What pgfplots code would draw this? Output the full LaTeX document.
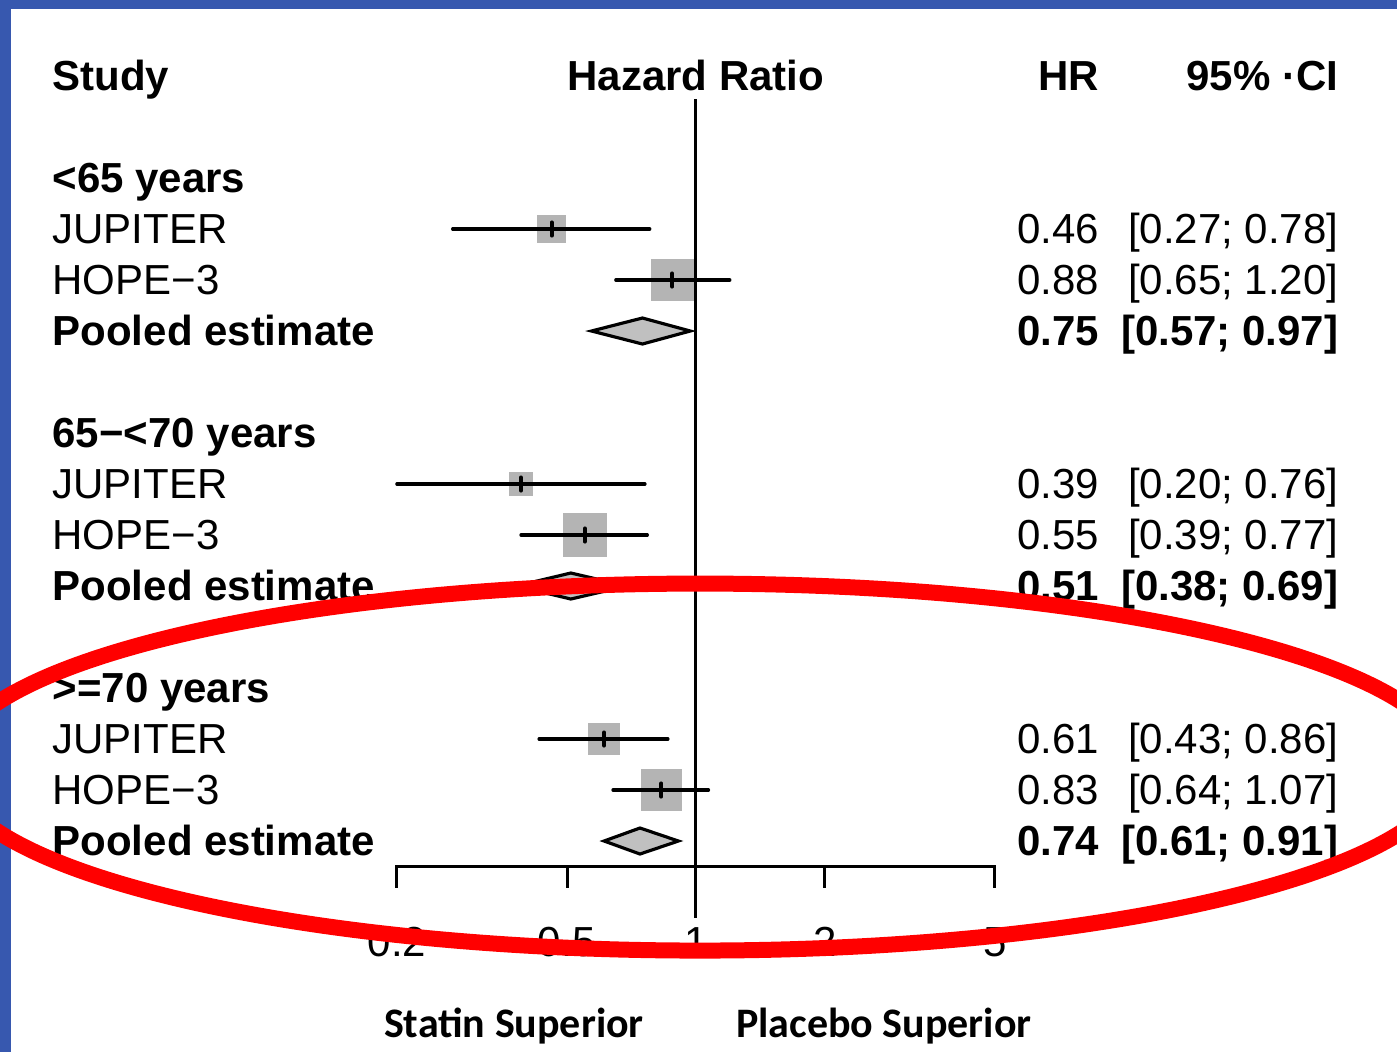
\documentclass[border=0pt]{standalone}
\usepackage{fontspec}
\setmainfont{Liberation Sans}
\newfontfamily\calibri{Carlito}
\usepackage{pgfplots}
\pgfplotsset{compat=1.18}
\definecolor{bluebord}{RGB}{55,88,175}
\definecolor{boxgray}{RGB}{180,180,180}
\definecolor{diagray}{RGB}{192,192,192}
\definecolor{ellred}{RGB}{255,0,0}
\newcommand{\fs}{\fontsize{11.95pt}{14pt}\selectfont}
\begin{document}
\begin{tikzpicture}
\begin{axis}[
  scale only axis, width=13.97cm, height=10.52cm,
  xmode=log, xmin=0.02361, xmax=43.54,
  ymin=-1.4902, ymax=19.137, y dir=reverse,
  hide axis, clip=false, clip marker paths=true,
]
\coordinate (SW) at (axis cs:0.02361,19.137);
\coordinate (NE) at (axis cs:43.54,-1.4902);
\fill[white] (SW) rectangle (NE);
\fill[bluebord] (axis cs:0.02361,-1.4902) rectangle (axis cs:43.54,-1.3137);
\fill[bluebord] (axis cs:0.02361,-1.4902) rectangle (axis cs:0.02504,19.137);

% ---- squares (weights) ----
\pgfplotsset{sq/.style={boxgray, only marks, mark=square*, mark options={draw=boxgray, fill=boxgray, line width=0pt}}}
\addplot[sq, mark size=3.95pt] coordinates {(0.46,3)};
\addplot[sq, mark size=5.95pt] coordinates {(0.88,4)};
\addplot[sq, mark size=3.4pt] coordinates {(0.39,8)};
\addplot[sq, mark size=6.1pt] coordinates {(0.55,9)};
\addplot[sq, mark size=4.4pt] coordinates {(0.61,13)};
\addplot[sq, mark size=5.7pt] coordinates {(0.83,14)};

% ---- confidence intervals ----
\addplot[black, line width=0.95pt, line cap=round] coordinates {(0.27,3) (0.78,3)};
\addplot[black, line width=0.95pt, line cap=round] coordinates {(0.65,4) (1.20,4)};
\addplot[black, line width=0.95pt, line cap=round] coordinates {(0.20,8) (0.76,8)};
\addplot[black, line width=0.95pt, line cap=round] coordinates {(0.39,9) (0.77,9)};
\addplot[black, line width=0.95pt, line cap=round] coordinates {(0.43,13) (0.86,13)};
\addplot[black, line width=0.95pt, line cap=round] coordinates {(0.64,14) (1.07,14)};

% ---- point estimate ticks ----
\addplot[black, line width=1.1pt, line cap=round] coordinates {(0.46,2.87) (0.46,3.13)};
\addplot[black, line width=1.1pt, line cap=round] coordinates {(0.88,3.87) (0.88,4.13)};
\addplot[black, line width=1.1pt, line cap=round] coordinates {(0.39,7.87) (0.39,8.13)};
\addplot[black, line width=1.1pt, line cap=round] coordinates {(0.55,8.87) (0.55,9.13)};
\addplot[black, line width=1.1pt, line cap=round] coordinates {(0.61,12.87) (0.61,13.13)};
\addplot[black, line width=1.1pt, line cap=round] coordinates {(0.83,13.87) (0.83,14.13)};

% ---- pooled diamonds ----
\addplot[draw=black, fill=diagray, line width=0.9pt, line join=miter] coordinates {(0.57,5) (0.75,4.745) (0.97,5) (0.75,5.255)} --cycle;
\addplot[draw=black, fill=diagray, line width=0.9pt, line join=miter] coordinates {(0.38,10) (0.51,9.745) (0.69,10) (0.51,10.255)} --cycle;
\addplot[draw=black, fill=diagray, line width=0.9pt, line join=miter] coordinates {(0.61,15) (0.74,14.745) (0.91,15) (0.74,15.255)} --cycle;

% ---- reference line and x axis ----
\addplot[black, line width=0.85pt] coordinates {(1,0.46) (1,16.51)};
\addplot[black, line width=0.85pt] coordinates {(0.2,15.92) (0.2,15.49) (5,15.49) (5,15.92)};
\addplot[black, line width=0.85pt] coordinates {(0.5,15.49) (0.5,15.92)};
\addplot[black, line width=0.85pt] coordinates {(2,15.49) (2,15.92)};

% ---- tick labels ----
\foreach \v/\t in {0.2/0.2, 0.5/0.5, 1/1, 2/2, 5/5}{
  \edef\temp{\noexpand\node[anchor=base, inner sep=0pt, font=\noexpand\fs] at (axis cs:\v,17.27) {\t};}
  \temp
}

% ---- headers ----
\node[anchor=base west, inner sep=0pt, font=\fs\bfseries] at (axis cs:0.03123,0.29) {Study};
\node[anchor=base, inner sep=0pt, font=\fs\bfseries] at (axis cs:1,0.29) {Hazard Ratio};
\node[anchor=base east, inner sep=0pt, font=\fs\bfseries] at (axis cs:8.80,0.29) {HR};
\node[anchor=base east, inner sep=0pt, font=\fs\bfseries] at (axis cs:31.85,0.29) {95\% ·CI};

% ---- left column ----
\node[anchor=base west, inner sep=0pt, font=\fs\bfseries] at (axis cs:0.03123,2.29) {<65 years};
\node[anchor=base west, inner sep=0pt, font=\fs] at (axis cs:0.03123,3.29) {JUPITER};
\node[anchor=base west, inner sep=0pt, font=\fs] at (axis cs:0.03123,4.29) {HOPE−3};
\node[anchor=base west, inner sep=0pt, font=\fs\bfseries] at (axis cs:0.03123,5.29) {Pooled estimate};
\node[anchor=base west, inner sep=0pt, font=\fs\bfseries] at (axis cs:0.03123,7.29) {65−<70 years};
\node[anchor=base west, inner sep=0pt, font=\fs] at (axis cs:0.03123,8.29) {JUPITER};
\node[anchor=base west, inner sep=0pt, font=\fs] at (axis cs:0.03123,9.29) {HOPE−3};
\node[anchor=base west, inner sep=0pt, font=\fs\bfseries] at (axis cs:0.03123,10.29) {Pooled estimate};
\node[anchor=base west, inner sep=0pt, font=\fs\bfseries] at (axis cs:0.03123,12.29) {>=70 years};
\node[anchor=base west, inner sep=0pt, font=\fs] at (axis cs:0.03123,13.29) {JUPITER};
\node[anchor=base west, inner sep=0pt, font=\fs] at (axis cs:0.03123,14.29) {HOPE−3};
\node[anchor=base west, inner sep=0pt, font=\fs\bfseries] at (axis cs:0.03123,15.29) {Pooled estimate};

% ---- HR column ----
\node[anchor=base east, inner sep=0pt, font=\fs] at (axis cs:8.80,3.29) {0.46};
\node[anchor=base east, inner sep=0pt, font=\fs] at (axis cs:8.80,4.29) {0.88};
\node[anchor=base east, inner sep=0pt, font=\fs\bfseries] at (axis cs:8.80,5.29) {0.75};
\node[anchor=base east, inner sep=0pt, font=\fs] at (axis cs:8.80,8.29) {0.39};
\node[anchor=base east, inner sep=0pt, font=\fs] at (axis cs:8.80,9.29) {0.55};
\node[anchor=base east, inner sep=0pt, font=\fs\bfseries] at (axis cs:8.80,10.29) {0.51};
\node[anchor=base east, inner sep=0pt, font=\fs] at (axis cs:8.80,13.29) {0.61};
\node[anchor=base east, inner sep=0pt, font=\fs] at (axis cs:8.80,14.29) {0.83};
\node[anchor=base east, inner sep=0pt, font=\fs\bfseries] at (axis cs:8.80,15.29) {0.74};

% ---- CI column ----
\node[anchor=base east, inner sep=0pt, font=\fs] at (axis cs:31.85,3.29) {[0.27; 0.78]};
\node[anchor=base east, inner sep=0pt, font=\fs] at (axis cs:31.85,4.29) {[0.65; 1.20]};
\node[anchor=base east, inner sep=0pt, font=\fs\bfseries] at (axis cs:31.85,5.29) {[0.57; 0.97]};
\node[anchor=base east, inner sep=0pt, font=\fs] at (axis cs:31.85,8.29) {[0.20; 0.76]};
\node[anchor=base east, inner sep=0pt, font=\fs] at (axis cs:31.85,9.29) {[0.39; 0.77]};
\node[anchor=base east, inner sep=0pt, font=\fs\bfseries] at (axis cs:31.85,10.29) {[0.38; 0.69]};
\node[anchor=base east, inner sep=0pt, font=\fs] at (axis cs:31.85,13.29) {[0.43; 0.86]};
\node[anchor=base east, inner sep=0pt, font=\fs] at (axis cs:31.85,14.29) {[0.64; 1.07]};
\node[anchor=base east, inner sep=0pt, font=\fs\bfseries] at (axis cs:31.85,15.29) {[0.61; 0.91]};

% ---- bottom labels ----
\node[anchor=base, inner sep=0pt, font=\fontsize{11.95pt}{14pt}\calibri\bfseries] at (axis cs:0.3754,18.86) {Statin Superior};
\node[anchor=base, inner sep=0pt, font=\fontsize{11.95pt}{14pt}\calibri\bfseries] at (axis cs:2.751,18.86) {Placebo Superior};

% ---- red ellipse annotation ----
\draw[ellred, line width=1.6mm] (axis cs:1.0218,13.55) ellipse [x radius=75mm, y radius=18.35mm];
\end{axis}
\pgfresetboundingbox
\useasboundingbox (SW) rectangle (NE);
\end{tikzpicture}
\end{document}
